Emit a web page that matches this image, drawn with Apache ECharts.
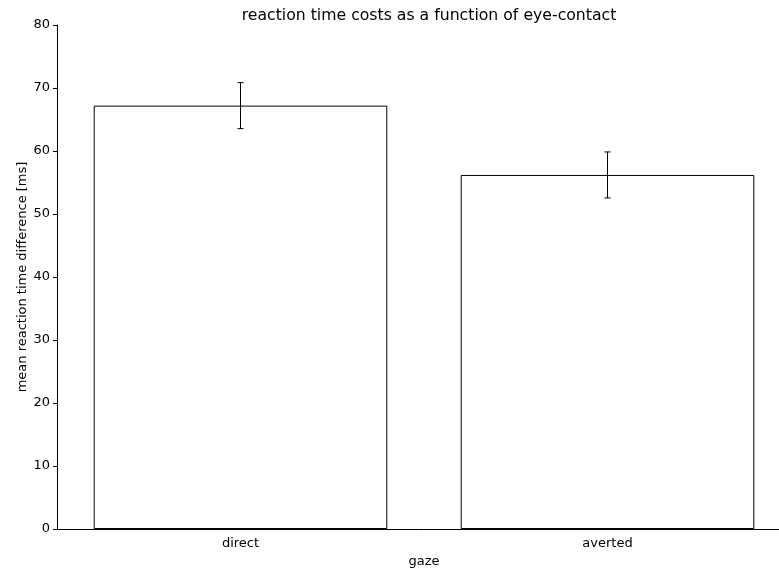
<!DOCTYPE html>
<html>
<head>
<meta charset="utf-8">
<script src="https://cdn.jsdelivr.net/npm/echarts@6/dist/echarts.min.js"></script>
<style>
  html, body { margin: 0; padding: 0; background: #fff; }
  #chart { width: 779px; height: 574px; }
</style>
</head>
<body>
<div id="chart"></div>
<script>
// Gaze conditions and mean reaction time differences (ms) with error half-widths
const categories = ['direct', 'averted'];
const meanValues = [67.2, 56.2];
const errorValues = [3.65, 3.65];
const yTicks = [0, 10, 20, 30, 40, 50, 60, 70, 80];

const FONT = 'DejaVu Sans';

const chart = echarts.init(document.getElementById('chart'), null, { renderer: 'canvas' });

const errorData = categories.map((c, i) => [i, meanValues[i] - errorValues[i], meanValues[i] + errorValues[i]]);

chart.setOption({
  animation: false,
  backgroundColor: '#ffffff',
  title: {
    text: 'reaction time costs as a function of eye-contact',
    left: 424,
    textAlign: 'center',
    top: 3,
    textStyle: { fontFamily: FONT, fontSize: 15.7, fontWeight: 'normal', color: '#000' }
  },
  // plot area deliberately runs past the right edge of the canvas
  grid: { left: 57, top: 25, width: 734, height: 504, containLabel: false, outerBoundsMode: 'none' },
  xAxis: {
    type: 'category',
    data: categories,
    boundaryGap: true,
    name: 'gaze',
    nameLocation: 'middle',
    nameGap: 26,
    nameMoveOverlap: false,
    nameTextStyle: { fontFamily: FONT, fontSize: 13, color: '#000' },
    axisLine: { lineStyle: { color: '#000', width: 1 } },
    axisTick: { alignWithLabel: true, length: 4, lineStyle: { color: '#000' } },
    axisLabel: { fontFamily: FONT, fontSize: 13, color: '#000', margin: 8 },
    splitLine: { show: false },
    z: 5
  },
  yAxis: {
    type: 'value',
    min: yTicks[0],
    max: yTicks[yTicks.length - 1],
    interval: 10,
    name: 'mean reaction time difference [ms]',
    nameLocation: 'middle',
    nameGap: 28,
    nameMoveOverlap: false,
    nameTextStyle: { fontFamily: FONT, fontSize: 13, color: '#000' },
    axisLine: { show: true, lineStyle: { color: '#000', width: 1 } },
    axisTick: { show: true, length: 4, lineStyle: { color: '#000' } },
    axisLabel: { fontFamily: FONT, fontSize: 13, color: '#000', margin: 7 },
    splitLine: { show: false }
  },
  series: [
    {
      type: 'bar',
      data: meanValues,
      barWidth: '80%',
      itemStyle: { color: '#ffffff', borderColor: '#000', borderWidth: 1 },
      z: 2
    },
    {
      type: 'custom',
      data: errorData,
      z: 3,
      renderItem: function (params, api) {
        const x = api.value(0);
        const lo = api.coord([x, api.value(1)]);
        const hi = api.coord([x, api.value(2)]);
        const cap = 3;
        const style = { stroke: '#000', lineWidth: 1 };
        return {
          type: 'group',
          children: [
            { type: 'line', shape: { x1: hi[0], y1: hi[1], x2: lo[0], y2: lo[1] }, style },
            { type: 'line', shape: { x1: hi[0] - cap, y1: hi[1], x2: hi[0] + cap, y2: hi[1] }, style },
            { type: 'line', shape: { x1: lo[0] - cap, y1: lo[1], x2: lo[0] + cap, y2: lo[1] }, style }
          ]
        };
      }
    }
  ]
});
</script>
</body>
</html>
